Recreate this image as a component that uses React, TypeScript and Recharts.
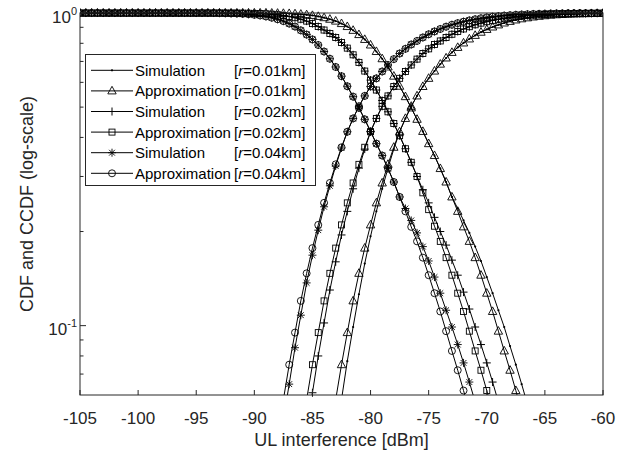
import React from "react";
import { LineChart, Line, XAxis, YAxis } from "recharts";

const FONT = '"Liberation Sans", Arial, Helvetica, sans-serif';
const INK = "#262626";

// x grid of the curves, 0.5 dB apart
const X_MIN = -105;
const X_MAX = -60;
const X_STEP = 0.5;
const X_TICKS = [-105, -100, -95, -90, -85, -80, -75, -70, -65, -60];
const Y_MIN = 0.06;
const Y_MAX = 1;
const Y_TICKS = [0.07, 0.08, 0.09, 0.1, 0.2, 0.3, 0.4, 0.5, 0.6, 0.7, 0.8, 0.9, 1];
const Y_EXPONENTS: Record<string, string> = { "0.1": "-1", "1": "0" };

// plot box (chart margins + axis sizes)
const PLOT_LEFT = 80;
const PLOT_TOP = 13;
const PLOT_RIGHT = 603;
const PLOT_BOTTOM = 395;

// ---- r = 0.04 km ----
const simCdf04From = -88.5;
const simCdf04 = [
  0.029, 0.038, 0.05, 0.065, 0.085, 0.108, 0.137, 0.168, 0.202, 0.24, 0.28, 0.324, 0.37, 0.417, 0.46,
  0.503, 0.543, 0.582, 0.618, 0.65, 0.682, 0.712, 0.742, 0.768, 0.793, 0.814, 0.835, 0.855, 0.873,
  0.889, 0.904, 0.917, 0.928, 0.938, 0.947, 0.955, 0.962, 0.968, 0.973, 0.977, 0.981, 0.984, 0.987,
  0.989, 0.991, 0.993, 0.994, 0.995, 0.996, 0.997, 0.997, 0.998, 0.998, 0.999, 0.999, 0.999, 1, 1,
];
const approxCdf04From = -88.5;
const approxCdf04 = [
  0.035, 0.045, 0.058, 0.075, 0.095, 0.12, 0.147, 0.177, 0.21, 0.247, 0.286, 0.328, 0.372, 0.417, 0.46,
  0.503, 0.543, 0.582, 0.618, 0.65, 0.682, 0.712, 0.742, 0.768, 0.793, 0.814, 0.835, 0.855, 0.873,
  0.889, 0.904, 0.917, 0.928, 0.938, 0.947, 0.955, 0.962, 0.968, 0.973, 0.977, 0.981, 0.984, 0.987,
  0.989, 0.991, 0.993, 0.994, 0.995, 0.996, 0.997, 0.997, 0.998, 0.998, 0.999, 0.999, 0.999, 1, 1,
];
const simCcdf04From = -105;
const simCcdf04 = [
  1, 1, 1, 1, 1, 1, 1, 1, 1, 1, 1, 1, 1, 1, 1, 1, 1, 1, 1, 1, 1, 1, 1, 1,
  0.999, 0.998, 0.997, 0.996, 0.994, 0.991, 0.987, 0.982, 0.975, 0.966, 0.955, 0.942, 0.925, 0.905,
  0.88, 0.853, 0.823, 0.79, 0.753, 0.714, 0.672, 0.628, 0.583, 0.54, 0.497, 0.457, 0.418, 0.382, 0.35,
  0.318, 0.288, 0.258, 0.237, 0.217, 0.198, 0.179, 0.161, 0.143, 0.127, 0.112, 0.099, 0.087, 0.076,
  0.066, 0.057, 0.049, 0.042,
];
const approxCcdf04From = -105;
const approxCcdf04 = [
  1, 1, 1, 1, 1, 1, 1, 1, 1, 1, 1, 1, 1, 1, 1, 1, 1, 1, 1, 1, 1, 1, 1, 1,
  0.999, 0.998, 0.997, 0.996, 0.994, 0.991, 0.987, 0.982, 0.975, 0.966, 0.955, 0.942, 0.925, 0.905,
  0.88, 0.853, 0.823, 0.79, 0.753, 0.714, 0.672, 0.628, 0.583, 0.54, 0.497, 0.457, 0.418, 0.382, 0.35,
  0.318, 0.288, 0.258, 0.232, 0.207, 0.186, 0.165, 0.145, 0.127, 0.111, 0.096, 0.083, 0.072, 0.062,
  0.053, 0.045,
];

// ---- r = 0.02 km ----
const simCdf02From = -86.5;
const simCdf02 = [
  0.028, 0.036, 0.047, 0.061, 0.08, 0.102, 0.13, 0.16, 0.195, 0.232, 0.274, 0.319, 0.367, 0.417, 0.46,
  0.503, 0.543, 0.582, 0.618, 0.65, 0.682, 0.712, 0.742, 0.768, 0.793, 0.814, 0.835, 0.855, 0.873,
  0.889, 0.904, 0.917, 0.928, 0.938, 0.947, 0.955, 0.962, 0.968, 0.973, 0.977, 0.981, 0.984, 0.987,
  0.989, 0.991, 0.993, 0.994, 0.995, 0.996, 0.997, 0.997, 0.998, 0.998, 0.999,
];
const approxCdf02From = -86.5;
const approxCdf02 = [
  0.035, 0.045, 0.058, 0.075, 0.095, 0.12, 0.147, 0.177, 0.21, 0.247, 0.286, 0.328, 0.372, 0.417, 0.46,
  0.503, 0.543, 0.582, 0.618, 0.65, 0.682, 0.712, 0.742, 0.768, 0.793, 0.814, 0.835, 0.855, 0.873,
  0.889, 0.904, 0.917, 0.928, 0.938, 0.947, 0.955, 0.962, 0.968, 0.973, 0.977, 0.981, 0.984, 0.987,
  0.989, 0.991, 0.993, 0.994, 0.995, 0.996, 0.997, 0.997, 0.998, 0.998, 0.999,
];
const simCcdf02From = -105;
const simCcdf02 = [
  1, 1, 1, 1, 1, 1, 1, 1, 1, 1, 1, 1, 1, 1, 1, 1, 1, 1, 1, 1, 1, 1, 1, 1, 1, 1, 1, 1,
  0.999, 0.998, 0.997, 0.996, 0.994, 0.991, 0.987, 0.982, 0.975, 0.966, 0.955, 0.942, 0.925, 0.905,
  0.882, 0.86, 0.835, 0.805, 0.772, 0.735, 0.695, 0.652, 0.61, 0.567, 0.525, 0.483, 0.443, 0.405,
  0.368, 0.333, 0.3, 0.272, 0.247, 0.222, 0.2, 0.181, 0.162, 0.145, 0.128, 0.113, 0.099, 0.087,
  0.076, 0.066, 0.057, 0.049, 0.042,
];
const approxCcdf02From = -105;
const approxCcdf02 = [
  1, 1, 1, 1, 1, 1, 1, 1, 1, 1, 1, 1, 1, 1, 1, 1, 1, 1, 1, 1, 1, 1, 1, 1, 1, 1, 1, 1,
  0.999, 0.998, 0.997, 0.996, 0.994, 0.991, 0.987, 0.982, 0.975, 0.966, 0.955, 0.942, 0.925, 0.905,
  0.882, 0.86, 0.835, 0.805, 0.772, 0.735, 0.695, 0.652, 0.61, 0.567, 0.525, 0.483, 0.443, 0.405,
  0.368, 0.333, 0.3, 0.266, 0.235, 0.208, 0.186, 0.165, 0.145, 0.127, 0.111, 0.096, 0.083, 0.072,
  0.062, 0.053, 0.045,
];

// ---- r = 0.01 km ----
const simCdf01From = -84;
const simCdf01 = [
  0.027, 0.034, 0.044, 0.058, 0.077, 0.099, 0.126, 0.158, 0.193, 0.232, 0.274, 0.319, 0.367, 0.417,
  0.46, 0.503, 0.543, 0.582, 0.618, 0.652, 0.686, 0.718, 0.748, 0.776, 0.802, 0.826, 0.848, 0.868,
  0.886, 0.902, 0.916, 0.929, 0.94, 0.95, 0.958, 0.965, 0.971, 0.976, 0.98, 0.984, 0.987, 0.989, 0.991,
  0.993, 0.994, 0.995, 0.996, 0.997, 0.998,
];
const approxCdf01From = -84;
const approxCdf01 = [
  0.035, 0.045, 0.058, 0.075, 0.095, 0.12, 0.147, 0.177, 0.21, 0.247, 0.286, 0.328, 0.372, 0.417,
  0.46, 0.503, 0.543, 0.582, 0.618, 0.652, 0.686, 0.718, 0.748, 0.776, 0.802, 0.826, 0.848, 0.868,
  0.886, 0.902, 0.916, 0.929, 0.94, 0.95, 0.958, 0.965, 0.971, 0.976, 0.98, 0.984, 0.987, 0.989, 0.991,
  0.993, 0.994, 0.995, 0.996, 0.997, 0.998,
];
const simCcdf01From = -105;
const simCcdf01 = [
  1, 1, 1, 1, 1, 1, 1, 1, 1, 1, 1, 1, 1, 1, 1, 1, 1, 1, 1, 1, 1, 1, 1, 1, 1, 1, 1, 1, 1, 1, 1, 1, 1,
  0.999, 0.998, 0.997, 0.996, 0.994, 0.991, 0.987, 0.982, 0.975, 0.966, 0.955, 0.942, 0.925, 0.905,
  0.88, 0.853, 0.823, 0.79, 0.753, 0.714, 0.672, 0.628, 0.583, 0.54, 0.497, 0.457, 0.418, 0.382, 0.35,
  0.318, 0.288, 0.258, 0.237, 0.217, 0.198, 0.179, 0.161, 0.143, 0.127, 0.112, 0.099, 0.086, 0.075,
  0.065, 0.056, 0.048,
];
const approxCcdf01From = -105;
const approxCcdf01 = [
  1, 1, 1, 1, 1, 1, 1, 1, 1, 1, 1, 1, 1, 1, 1, 1, 1, 1, 1, 1, 1, 1, 1, 1, 1, 1, 1, 1, 1, 1, 1, 1, 1,
  0.999, 0.998, 0.997, 0.996, 0.994, 0.991, 0.987, 0.982, 0.975, 0.966, 0.955, 0.942, 0.925, 0.905,
  0.88, 0.853, 0.823, 0.79, 0.753, 0.714, 0.672, 0.628, 0.583, 0.54, 0.497, 0.457, 0.418, 0.382, 0.35,
  0.318, 0.288, 0.258, 0.232, 0.207, 0.186, 0.165, 0.145, 0.127, 0.111, 0.096, 0.083, 0.072, 0.062,
  0.053, 0.045,
];

type Shape = "dot" | "triangle" | "plus" | "square" | "star" | "circle";

const LEGEND = [
  { kind: "Simulation", radius: "0.01", shape: "dot" as Shape },
  { kind: "Approximation", radius: "0.01", shape: "triangle" as Shape },
  { kind: "Simulation", radius: "0.02", shape: "plus" as Shape },
  { kind: "Approximation", radius: "0.02", shape: "square" as Shape },
  { kind: "Simulation", radius: "0.04", shape: "star" as Shape },
  { kind: "Approximation", radius: "0.04", shape: "circle" as Shape },
];

const SERIES = [
  { key: "simCdf01", from: simCdf01From, values: simCdf01, shape: "dot" as Shape },
  { key: "simCcdf01", from: simCcdf01From, values: simCcdf01, shape: "dot" as Shape },
  { key: "approxCdf01", from: approxCdf01From, values: approxCdf01, shape: "triangle" as Shape },
  { key: "approxCcdf01", from: approxCcdf01From, values: approxCcdf01, shape: "triangle" as Shape },
  { key: "simCdf02", from: simCdf02From, values: simCdf02, shape: "plus" as Shape },
  { key: "simCcdf02", from: simCcdf02From, values: simCcdf02, shape: "plus" as Shape },
  { key: "approxCdf02", from: approxCdf02From, values: approxCdf02, shape: "square" as Shape },
  { key: "approxCcdf02", from: approxCcdf02From, values: approxCcdf02, shape: "square" as Shape },
  { key: "simCdf04", from: simCdf04From, values: simCdf04, shape: "star" as Shape },
  { key: "simCcdf04", from: simCcdf04From, values: simCcdf04, shape: "star" as Shape },
  { key: "approxCdf04", from: approxCdf04From, values: approxCdf04, shape: "circle" as Shape },
  { key: "approxCcdf04", from: approxCcdf04From, values: approxCcdf04, shape: "circle" as Shape },
];

const xs: number[] = [];
for (let i = 0; X_MIN + i * X_STEP <= X_MAX + 1e-9; i++) xs.push(X_MIN + i * X_STEP);

// one row per x; "<key>M" holds only the points inside the y range (for the markers)
const rows = xs.map((x) => {
  const row: Record<string, number | null> = { x };
  SERIES.forEach((s) => {
    const i = Math.round((x - s.from) / X_STEP);
    const v = i >= 0 && i < s.values.length ? s.values[i] : null;
    row[s.key] = v;
    row[s.key + "M"] = v != null && v >= Y_MIN ? v : null;
  });
  return row;
});

function marker(shape: Shape, cx: number, cy: number) {
  const sw = 0.9;
  switch (shape) {
    case "dot":
      return <circle cx={cx} cy={cy} r={1.1} fill="#000" />;
    case "triangle":
      return (
        <polygon
          points={`${cx},${cy - 4.6} ${cx - 4.2},${cy + 3} ${cx + 4.2},${cy + 3}`}
          fill="none"
          stroke="#000"
          strokeWidth={sw}
        />
      );
    case "square":
      return <rect x={cx - 3} y={cy - 3} width={6} height={6} fill="none" stroke="#000" strokeWidth={sw} />;
    case "plus":
      return <path d={`M${cx - 4},${cy}H${cx + 4}M${cx},${cy - 4}V${cy + 4}`} stroke="#000" strokeWidth={1} />;
    case "star":
      return (
        <path
          d={`M${cx - 4},${cy}H${cx + 4}M${cx},${cy - 4}V${cy + 4}M${cx - 2.9},${cy - 2.9}L${cx + 2.9},${cy + 2.9}M${cx - 2.9},${cy + 2.9}L${cx + 2.9},${cy - 2.9}`}
          stroke="#000"
          strokeWidth={0.9}
        />
      );
    default:
      return <circle cx={cx} cy={cy} r={3.5} fill="none" stroke="#000" strokeWidth={sw} />;
  }
}

const makeDot = (shape: Shape) => (p: any) => {
  const k = `${shape}-${p.index}`;
  if (p.cx == null || p.cy == null || p.value == null || !isFinite(p.cy)) return <g key={k} />;
  return <g key={k}>{marker(shape, p.cx, p.cy)}</g>;
};

function BottomTick(props: any) {
  const { x, payload } = props;
  return (
    <g>
      <line x1={x} y1={PLOT_BOTTOM} x2={x} y2={PLOT_BOTTOM - 5} stroke={INK} />
      <text x={x} y={PLOT_BOTTOM + 29} textAnchor="middle" fontSize={17} fill={INK} fontFamily={FONT}>
        {payload.value}
      </text>
    </g>
  );
}

function TopTick(props: any) {
  const { x } = props;
  return <line x1={x} y1={PLOT_TOP} x2={x} y2={PLOT_TOP + 5} stroke={INK} />;
}

function LeftTick(props: any) {
  const { y, payload } = props;
  const exp = Y_EXPONENTS[String(payload.value)];
  return (
    <g>
      <line x1={PLOT_LEFT} y1={y} x2={PLOT_LEFT + (exp ? 6 : 3.5)} y2={y} stroke={INK} />
      {exp && (
        <text x={PLOT_LEFT - 3} y={y + 9.5} textAnchor="end" fontSize={17} fill={INK} fontFamily={FONT}>
          10
          <tspan dy={-8} fontSize={11}>
            {exp}
          </tspan>
        </text>
      )}
    </g>
  );
}

function RightTick(props: any) {
  const { y, payload } = props;
  const exp = Y_EXPONENTS[String(payload.value)];
  return <line x1={PLOT_RIGHT} y1={y} x2={PLOT_RIGHT - (exp ? 6 : 3.5)} y2={y} stroke={INK} />;
}

function XTitle() {
  return (
    <text x={(PLOT_LEFT + PLOT_RIGHT) / 2} y={446} textAnchor="middle" fontSize={18} fill={INK} fontFamily={FONT}>
      UL interference [dBm]
    </text>
  );
}

function YTitle() {
  return (
    <text
      x={0}
      y={0}
      transform={`translate(33,${(PLOT_TOP + PLOT_BOTTOM) / 2}) rotate(-90)`}
      textAnchor="middle"
      fontSize={18}
      fill={INK}
      fontFamily={FONT}
    >
      CDF and CCDF (log-scale)
    </text>
  );
}

function Frame() {
  return (
    <svg width={626} height={452} style={{ position: "absolute", left: 0, top: 0, pointerEvents: "none" }}>
      <rect
        x={PLOT_LEFT}
        y={PLOT_TOP}
        width={PLOT_RIGHT - PLOT_LEFT}
        height={PLOT_BOTTOM - PLOT_TOP}
        fill="none"
        stroke={INK}
        strokeWidth={1}
      />
    </svg>
  );
}

function LegendBox() {
  const rowH = 20.6;
  return (
    <svg width={232} height={133} style={{ position: "absolute", left: 85, top: 54 }}>
      <rect x={0.5} y={0.5} width={230} height={131} fill="#fff" stroke={INK} strokeWidth={1} />
      {LEGEND.map((e, i) => {
        const cy = 16.3 + i * rowH;
        return (
          <g key={i}>
            <line x1={6} y1={cy} x2={48} y2={cy} stroke="#000" strokeWidth={1} />
            {marker(e.shape, 27, cy)}
            <text x={50} y={cy + 5.5} fontSize={15} fill="#000" fontFamily={FONT}>
              {e.kind}
            </text>
            <text x={149} y={cy + 5.5} fontSize={15} fill="#000" fontFamily={FONT}>
              [<tspan fontStyle="italic">r</tspan>={e.radius}km]
            </text>
          </g>
        );
      })}
    </svg>
  );
}

export default function App() {
  return (
    <div style={{ position: "absolute", left: 0, top: 0, width: 626, height: 452, background: "#fff" }}>
      <LineChart width={626} height={452} data={rows} margin={{ top: 13, right: 23, bottom: 0, left: 0 }}>
        <XAxis
          xAxisId="b"
          dataKey="x"
          type="number"
          domain={[X_MIN, X_MAX]}
          allowDataOverflow
          ticks={X_TICKS}
          interval={0}
          height={57}
          tickSize={0}
          tickMargin={0}
          tickLine={false}
          tick={<BottomTick />}
          axisLine={false}
          label={<XTitle />}
        />
        <XAxis
          xAxisId="t"
          orientation="top"
          dataKey="x"
          type="number"
          domain={[X_MIN, X_MAX]}
          allowDataOverflow
          ticks={X_TICKS}
          interval={0}
          height={0}
          tickSize={0}
          tickMargin={0}
          tickLine={false}
          tick={<TopTick />}
          axisLine={false}
        />
        <YAxis
          yAxisId="y"
          type="number"
          scale="log"
          domain={[Y_MIN, Y_MAX]}
          allowDataOverflow
          ticks={Y_TICKS}
          interval={0}
          width={80}
          tickSize={0}
          tickMargin={0}
          tickLine={false}
          tick={<LeftTick />}
          axisLine={false}
          label={<YTitle />}
        />
        <YAxis
          yAxisId="r"
          orientation="right"
          type="number"
          scale="log"
          domain={[Y_MIN, Y_MAX]}
          allowDataOverflow
          ticks={Y_TICKS}
          interval={0}
          width={0}
          tickSize={0}
          tickMargin={0}
          tickLine={false}
          tick={<RightTick />}
          axisLine={false}
        />
        <YAxis yAxisId="m" hide type="number" scale="log" domain={[Y_MIN, Y_MAX]} />
        {SERIES.map((s) => (
          <Line
            key={s.key}
            xAxisId="b"
            yAxisId="y"
            dataKey={s.key}
            stroke="#000"
            strokeWidth={1}
            dot={false}
            activeDot={false}
            isAnimationActive={false}
          />
        ))}
        {SERIES.map((s) => (
          <Line
            key={s.key + "M"}
            xAxisId="b"
            yAxisId="m"
            dataKey={s.key + "M"}
            stroke="none"
            dot={makeDot(s.shape)}
            activeDot={false}
            isAnimationActive={false}
          />
        ))}
      </LineChart>
      <Frame />
      <LegendBox />
    </div>
  );
}
